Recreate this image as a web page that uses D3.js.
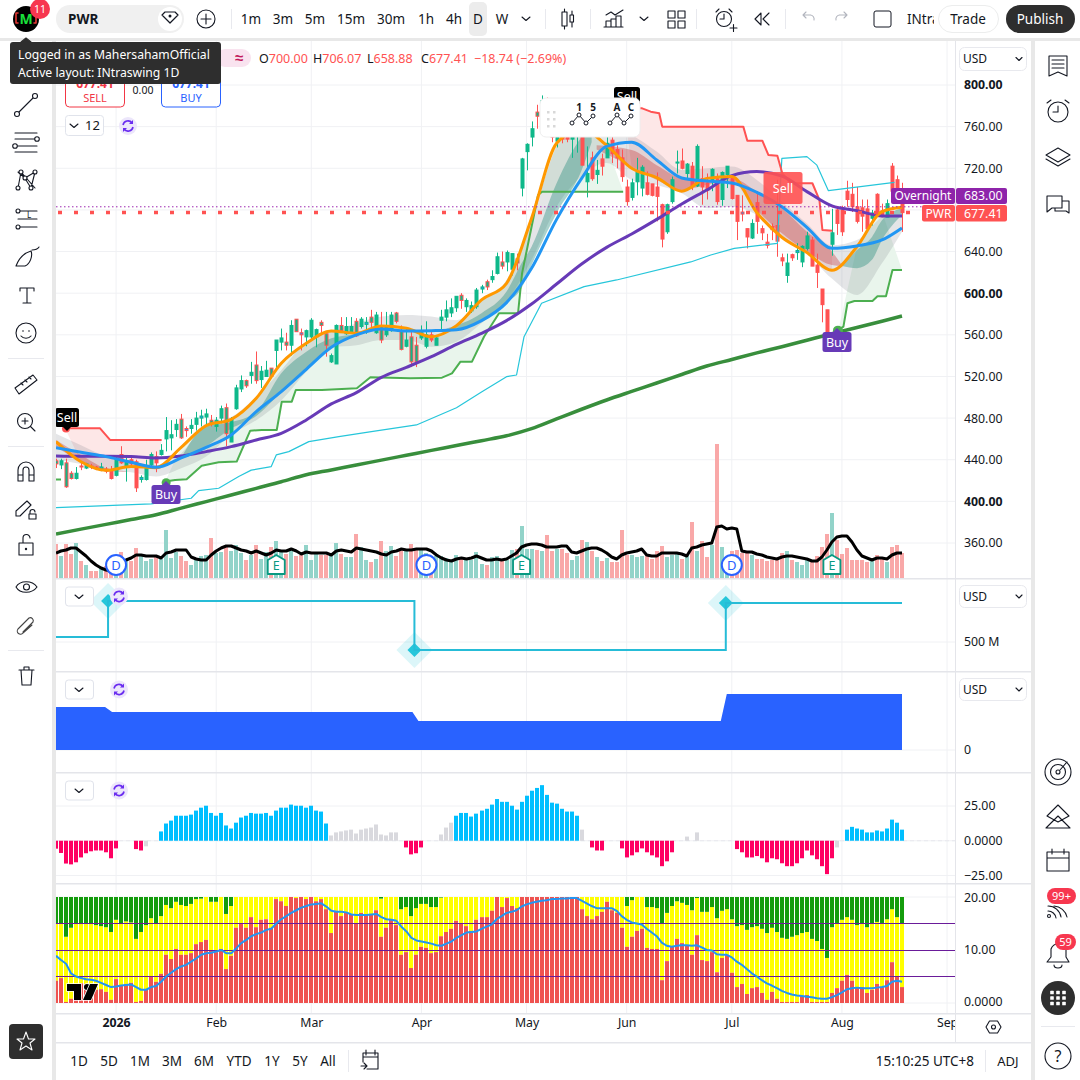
<!DOCTYPE html>
<html>
<head>
<meta charset="utf-8">
<script src="https://cdnjs.cloudflare.com/ajax/libs/d3/7.8.5/d3.min.js"></script>
<style>
  html, body { margin: 0; padding: 0; background: #fff; }
  svg { display: block; font-family: "Noto Sans", sans-serif; }
  .ax text { font-size: 12.3px; fill: #131722; font-family: "Noto Sans", sans-serif; }
  .ax .domain, .ax line { display: none; }
</style>
</head>
<body>
<div id="chart"></div>
<script>
//candles, one value per daily bar
const opens = [
  439,435,437,427,422,434,432,434,433,431,
  431,429,425,445,434,440,438,421,421,435,
  443,445,460,461,469,479,470,470,474,480,
  481,478,472,480,490,457,489,508,516,521,
  531,517,520,528,545,553,553,550,575,562,
  558,558,558,572,561,534,532,569,561,562,
  573,568,570,577,562,568,560,564,581,564,
  549,558,550,557,549,560,550,574,577,581,
  586,598,587,583,587,604,611,613,619,630,
  630,623,633,701,736,750,774,772,782,768,
  746,755,752,748,752,750,707,730,714,729,
  730,747,738,730,702,692,707,701,706,705,
  702,685,659,688,725,727,715,722,703,710,
  706,709,710,690,714,712,694,678,662,653,
  687,662,649,664,665,634,617,637,639,630,
  643,651,627,604,584,647,680,680,698,695,
  683,682,681,672,695,679,673,722,709,700];
const highs = [
  441,441,441,429,433,437,437,436,434,437,
  433,434,443,453,443,443,440,425,440,447,
  448,455,481,478,479,484,472,479,486,488,
  489,483,481,492,494,481,512,521,517,534,
  544,530,535,528,555,566,562,574,575,566,
  565,576,566,574,563,542,570,577,577,577,
  576,577,577,584,582,582,582,582,582,569,
  566,563,558,569,573,563,558,584,593,595,
  597,600,595,592,605,608,613,622,639,640,
  641,638,638,730,744,765,781,790,788,775,
  765,770,768,765,770,760,741,736,728,734,
  750,750,742,738,709,710,730,723,717,705,
  716,686,686,712,737,739,725,726,743,722,
  715,720,715,717,722,714,694,694,662,671,
  698,665,657,667,709,638,638,638,648,646,
  659,654,638,604,584,681,683,684,708,706,
  702,690,690,680,696,686,690,725,713,706.07];
const lows = [
  432,431,413,421,421,430,431,431,430,429,
  427,421,424,436,419,434,409,418,420,433,
  428,444,448,449,462,460,462,465,468,472,
  473,472,467,475,453,457,488,505,509,513,
  513,509,520,519,528,545,545,540,563,545,
  549,556,548,562,539,533,532,562,560,561,
  558,566,561,564,561,552,558,563,571,545,
  548,529,529,555,547,553,550,564,573,577,
  582,585,582,581,585,600,603,610,618,623,
  621,617,622,693,718,741,758,765,765,745,
  740,744,745,730,735,723,692,708,705,713,
  730,725,720,707,684,689,694,693,694,693,
  669,644,657,686,715,719,709,699,702,685,
  690,698,685,684,701,690,651,669,643,652,
  657,651,643,651,635,626,610,631,632,625,
  641,626,605,572,557,636,656,655,683,678,
  667,659,659,665,675,673,673,693,694,658.88];
const closes = [
  436,439,414,422,427,433,436,433,432,433,
  429,422,441,437,438,436,413,423,433,445,
  437,449,468,464,474,461,468,473,480,482,
  484,475,478,489,465,479,509,516,511,524,
  516,525,526,520,555,557,550,569,563,560,
  564,574,565,569,550,540,569,564,568,568,
  559,575,572,572,579,555,568,579,573,546,
  555,534,534,562,560,555,557,577,584,586,
  597,593,593,588,603,606,606,616,635,626,
  639,638,629,729,743,758,770,785,770,750,
  752,748,748,758,765,723,715,710,718,722,
  744,734,730,712,688,706,716,721,695,694,
  693,652,685,709,726,720,724,703,741,702,
  699,719,688,716,722,691,669,676,654,667,
  669,658,646,661,650,631,629,634,641,645,
  655,626,620,589,561,658,667,659,690,683,
  669,674,662,677,677,673.5,686,698,699,677.41];

//volume and the black relative line that sits on top of it (same unnamed scale)
const volumes = [
  34,22,34,24,35,17,13,7,7,10,
  12,12,17,26,18,17,30,22,17,19,
  21,19,48,20,26,22,17,13,20,22,
  23,40,25,26,32,27,33,25,18,23,
  33,19,26,31,37,26,24,27,22,23,
  33,18,24,23,23,24,35,24,21,21,
  44,31,18,16,19,37,27,32,22,29,
  27,34,29,29,25,15,22,22,20,17,
  23,20,18,18,26,14,13,21,22,17,
  18,28,29,52,29,29,28,27,43,27,
  29,29,25,18,22,38,36,27,21,17,
  20,16,16,48,23,23,21,22,23,19,
  27,32,21,23,24,19,23,56,27,37,
  21,33,134,31,21,27,28,25,25,23,
  19,19,17,18,19,25,27,18,16,13,
  18,16,22,31,44,65,38,24,30,18,
  18,18,16,17,23,20,16,31,33,25];
const relLine = [
  25,27,28,30,30,26,22,17,13,10,
  8,7,12,15,18,20,23,23,22,22,
  22,20,25,26,28,28,28,21,19,18,
  18,23,27,30,32,32,30,28,27,25,
  27,25,23,25,28,27,27,29,27,24,
  26,25,25,25,25,23,27,28,27,26,
  30,29,28,27,26,24,23,26,27,29,
  28,28,29,29,29,27,23,20,18,17,
  19,20,19,20,22,20,18,18,19,18,
  19,22,25,31,33,34,34,33,31,31,
  31,32,32,26,25,27,29,30,30,28,
  25,21,19,23,25,26,27,29,23,22,
  22,25,25,25,25,24,22,30,31,33,
  34,35,51,52,49,50,49,27,26,26,
  24,23,21,20,19,21,22,22,21,20,
  19,17,17,21,28,36,41,42,42,36,
  28,22,20,18,20,20,19,23,25,25];

//moving averages read every fifth bar
const lineBars = [0,5,10,15,20,25,30,35,40,45,50,55,60,65,70,75,80,85,90,95,100,105,110,115,120,125,130,135,140,145,150,155,160,165,169];
const emaFast = [457.4,438,429.8,433.4,432.4,451.9,472.8,478.8,499,532.6,551.8,563.7,561.5,568.5,566.3,558.2,568.8,593.5,609.5,672,744,758,742,720,711,698,710.3,712,677.4,653.7,639,622,644.7,678.3,682.5];
const emaMid = [451.6,447.1,443,437.5,432.7,441.7,451.9,463.8,486.2,505.4,526.9,548,559.9,565.6,563.7,564,564.9,573.6,590.9,623.9,670.9,710.3,741,745,728,710.7,707.8,705.9,696.9,683.1,663.3,643.1,645.4,651.1,662.7];
const emaSlow = [443.6,443.3,443.3,443,441.7,443.6,447.8,452.6,459,465.4,478.2,493.6,504.5,519.2,528.8,539,550.9,561.4,573.6,589.6,608.8,628,644,656.9,670.9,685.7,699.1,712.9,716.8,712.6,697.6,683.8,679.3,674.2,674.2];
const emaLong = [368.7,373.3,377.9,382.5,387.1,393.5,399.8,406.1,412.5,418.8,425.6,430.2,435,439.6,444.3,449,453.6,458.3,463,469.8,479.2,488.5,497.4,505.6,513.7,521.9,530,536.3,542.6,548.6,554.8,561,567,573.1,578.1];
const ribbonUpper = [465,454,443,438,435,446,475,481,500.6,526,553.5,563,571,577.5,579,577.5,574,591.9,612.7,670,740.8,763,761.6,752,736,718.3,720,721.6,708.8,688,667,646,651,673.5,681.5];
const ribbonLower = [440,436,430,428,424,431.8,443,464,478,497,524.6,548,550,555,555,548.6,553.4,571,591.9,632,683,712,725,708.7,704,696,681.5,683,675,654.3,638,614,598.3,628.7,659];

//ribbon core pieces, [bar, upper, lower]
const coreBearFirst = [[0,459,452.6],[5,444.6,438],[10,431.8,429],[14,429,428.5]];
const coreBullFirst = [[25,442,441],[30,472,453],[35,476,470],[40,486,482],[45,523,505],[50,543.8,526.9],[55,556.6,548],[60,560.8,560],[65,566,565]];
const coreBullSecond = [[78,566,564],[85,580.7,573.6],[90,601.5,590.9],[93,628.7,604.7],[95,644.7,627],[100,705.5,676.7],[105,750,718],[107,760,745]];
const coreBearSecond = [[108,742,738],[115,737.6,721.5],[120,723,708.7],[125,710,699],[130,707,704],[135,710.4,707],[140,697.6,680],[145,681.5,657.5],[150,659,640],[155,640,627],[157,627,626]];
const coreBullThird = [[157,627,626],[160,641.5,624],[163,654,632],[165,670,651],[169,681.5,675]];

//stepped trailing lines, [bar, price]
const trailCyan = [[0,394],[19,397.5],[27,403],[28.5,410.3],[32.5,412.6],[36.5,423.8],[39,430],[43,433.4],[44,444.6],[46.5,447.8],[50.5,457.4],[56.5,462.2],[63,467],[72,473.4],[80,490],[85,505],[90,519.8],[92,521.4],[93.5,558.2],[97,590.3],[105.5,606.3],[112,612.7],[126.8,630],[130.8,636.7],[135.5,643],[144.1,647.9],[145,729.6],[150,731.2],[152,723],[154.3,698.5],[167.5,706.5]];
const supportStart = [[0,421],[1,421]];
const supportFirst = [[21.8,419],[23.8,420.6],[26.1,421.2],[29.1,434.3],[32.5,437.5],[36.1,438.2],[38.8,467.9],[41.1,468.6],[44.1,468.6],[45.1,495.8],[47.1,495.8],[47.9,507],[53.1,507],[60.1,508.6],[62.8,519.2],[70.8,518.2],[77.1,518.8],[79.1,523],[80.8,534.2],[83.1,534.2],[85.5,558.2],[88.5,580.7],[92.3,580.7],[93.1,619],[96.3,694.3],[97.1,697.5],[113.3,697.5]];
const supportSecond = [[156.3,564.7],[157.3,567.9],[158.1,590.3],[159.5,592.5],[163.1,592.5],[164.1,597],[165.8,597],[167.1,622.3],[169,622.3]];
const resistFirst = [[1.8,470.2],[8.8,470.2],[10.8,459],[21.1,459]];
const resistSecond = [[113.5,777.6],[117.1,777.6],[118.8,774.4],[120.5,772.8],[121.1,760],[137.3,760],[138.1,746.5],[141.1,746.5],[142.3,732.8],[144.1,732],[145.1,715],[146.8,705.6],[151.1,705.6],[152.5,689.6],[153.1,660.7],[155.1,660]];

//second and third pane, [bar, value]
const stepValues = [[0,505],[10.4,541],[71.6,492],[133.8,539],[169,539]];
const stepMarkers = [[10.4,541],[71.6,492],[133.8,539]];
const blockValues = [[0,430],[9.8,430],[11.2,380],[71.2,380],[72.4,290],[132.8,290],[134,560],[169,560]];

//histogram pane
const histValues = [
  -5.7,-8.8,-16.4,-17,-15.5,-12,-9,-7.6,-7,-7,
  -8.3,-12.6,-5.5,0,0,0,-6,-7,-4,0,
  0,6.7,12.4,14.5,18,18,18,18.8,21.7,23.8,
  25.2,20,18,20,11,8.8,13,16.7,18,20,
  19.5,19.5,20,18,21.7,23.8,23.8,26,25.2,25.2,
  23.8,25.2,21.7,21,12.4,3.8,6,6.7,7.4,8,
  5.2,8,8.8,9.5,11.7,4.5,3.8,6,6,0,
  -4.8,-9.8,-9,-4.8,0,0,0,4.5,9.5,13,
  18,20,20,17.4,19.5,21.7,23,26,30,28,
  28,25.2,22.4,28,32.4,36,38,40,33,27.4,
  26.7,23,21,21,18,8,0,-4.8,-7,-7,
  0,0,0,-5.5,-12,-10.5,-8.3,-5.5,-8.3,-10.5,
  -12,-18.3,-14.8,-8.3,0,0,3,0,6,0,
  0,0,0,0,0,0,-6,-8.3,-12,-12,
  -11,-12.6,-15.5,-12.6,-13.3,-16.2,-18.3,-18.3,-16.2,-12.6,
  -7,-10.5,-13.3,-18.3,-24,-12.6,-4.8,0,8,10,
  8.8,8,6,6,7.4,6.7,8.8,15.2,13,8];
const histNeutralBars = [18,55,56,57,58,59,60,61,62,63,64,65,66,67,68,77,78,79,105,126,128,156];

//bottom pane: red stack top, green stack floor, blue average
const stackRed = [
  4.2,4.7,0.2,0.8,2.5,3.7,3.6,3.2,2.5,2.6,
  2.1,0.6,4.5,3.4,3.6,3.8,0.2,0.4,2.5,4.9,
  4,5.5,9.1,8.3,10.2,9.1,9.1,9.4,11.1,11.5,
  11.9,10,9.6,10.2,6.4,8.9,14.2,14.9,14.2,16.2,
  14.3,15.7,15.8,14.2,19.6,19.2,18.3,20,19.8,20,
  19.6,20,19.2,19.6,17.7,13.2,17.4,16.4,17,16.8,
  15.1,17,16.6,16.8,17.5,12.5,14.2,15.8,14.7,9.1,
  9.6,6.6,9.1,10.6,10.4,9.4,9.6,12.6,13.4,14,
  15.5,15.1,14.5,13.6,15.7,16.2,16.2,17.4,20,18.1,
  19.8,18.3,17.9,20,20,20,20,20,20,20,
  20,20,20,20,20,17.7,16.4,15.8,16.4,17.2,
  19.1,17.5,17,14.2,10.6,12.5,13.6,14,10.4,10.2,
  10.2,4.3,7.9,10.6,12.1,11.3,10.9,9.1,12.8,8.1,
  7.9,9.6,5.8,8.5,9.1,5.7,3,3.6,1.7,2.8,
  3,1.9,0.6,2.1,0.8,0.2,0.2,0.2,0.2,1.3,
  1.5,0.2,0.2,0.2,0.2,1.9,2.8,4.2,5.3,4.2,
  3,3,1.9,2.5,3.6,3,4.3,7.7,4.9,3];
const stackGreen = [
  15,15,12.5,14.2,14.9,14.9,14.9,14.9,14.7,14.5,
  14.3,13.4,15.7,15,15.4,15.2,12.1,13.4,14.7,16,
  15,16.4,18.5,17.9,19.1,18.5,18.3,18.7,19.6,19.7,
  20,19.1,19.1,20,16.8,18.3,20,20,20,20,
  20,20,20,20,20,20,20,20,20,20,
  20,20,20,20,20,20,20,20,20,20,
  20,20,20,20,20,19.7,20,20,20,17.7,
  18.1,16.4,17.9,18.7,18.7,18.1,18.1,19.9,20,20,
  20,20,20,20,20,20,20,20,20,20,
  20,20,20,20,20,20,20,20,20,20,
  20,20,20,20,20,20,20,20,20,20,
  20,20,20,20,18.3,19.4,20,20,18.1,18.1,
  17.9,15,17,18.3,19.2,18.9,18.5,17.5,19.8,17.2,
  17.2,18.1,16,17.4,17.7,15.8,14.5,14.7,13.8,14.3,
  14.5,14,13.2,14.2,13.4,12.3,12.1,12.5,12.8,13.2,
  13.4,12.1,11.7,10.2,8.5,14.3,15.1,15.7,16.2,15.7,
  14.7,14.9,14.3,14.9,15.3,15.1,15.8,17.7,16.2,15];
const stackAverage = [
  8.9,8.1,7.4,5.6,5,4.7,4.5,4.4,4.2,3.8,
  3.4,3,3.1,3.3,3.4,3.5,3,2.5,2.5,3,
  3.2,4,5,5.7,6.4,6.9,7.2,7.8,8.4,9.1,
  9.4,9.5,9.7,10,9.4,9.4,10.3,11.3,11.9,12.6,
  13,13.3,13.8,14,15,15.8,16.4,17,17.5,18,
  18.3,18.6,18.7,18.8,18.2,17.4,17.2,17.2,17.1,16.7,
  16.6,16.6,16.6,16.7,16.8,16.2,15.8,15.7,15.5,14.4,
  13.5,12.3,11.8,11.6,11.4,11.2,10.9,10.8,11.2,11.6,
  12.3,12.8,13.3,13.4,13.5,14,14.4,14.8,15.8,16.4,
  17,17.2,17.5,18.2,18.6,18.9,19.1,19.3,19.4,19.6,
  19.6,19.7,19.7,19.8,19.8,19.3,18.8,18.3,17.9,17.9,
  17.9,17.9,17.4,16.4,15.7,15.2,15,14.8,14,13.3,
  12.6,11.4,10.8,10.6,10.8,10.9,10.9,10.8,10.9,10.5,
  10,9.9,9.2,9.1,9.1,8.6,7.8,7.2,6.4,5.6,
  5,4.3,3.7,3.3,2.8,2.3,1.9,1.6,1.4,1.3,
  1.2,1.1,0.9,0.8,0.8,1.1,1.5,2,2.6,2.8,
  2.9,2.8,2.8,2.8,2.9,3,3.2,4,4.2,4];
const stackLevels = [15,10,5];

//ticks and labels
const priceTicks = [800,760,720,640,600,560,520,480,440,400,360];
const priceBold = [800,600,400];
const histTicks = [25,0,-25];
const stackTicks = [20,10,0];
const monthBars = [12,32,51,73,94,114,135,157,178];
const monthLabels = ["2026","Feb","Mar","Apr","May","Jun","Jul","Aug","Sep"];
const dividendBars = [12,74,135];
const earningsBars = [44,93,155];
const intervals = ["1m","3m","5m","15m","30m","1h","4h","D","W"];
const ranges = ["1D","5D","1M","3M","6M","YTD","1Y","5Y","All"];
const lastClose = 677.41;
const overnightPrice = 683;

const width = 1080, height = 1080;
const svg = d3.select("#chart").append("svg").attr("width", width).attr("height", height);
const defs = svg.append("defs");
const addClip = (id, x, y, w, h) => defs.append("clipPath").attr("id", id).append("rect").attr("x", x).attr("y", y).attr("width", w).attr("height", h);
addClip("main", 56, 41, 899, 537);
addClip("pane2", 56, 579, 899, 92);
addClip("pane3", 56, 672, 899, 100);
addClip("pane4", 56, 773, 899, 110);
addClip("pane5", 56, 884, 899, 129);
addClip("timeaxis", 56, 1013, 899, 29);

//shared scales
const x = d3.scaleLinear().domain([0, 169]).range([56, 902]);
const bx = i => Math.round(x(i));
const y = d3.scaleLinear().domain([360, 800]).range([543, 85]);
const yVol = d3.scaleLinear().domain([0, 134]).range([578, 444]);
const yStep = d3.scaleLinear().domain([500, 541]).range([642, 601]);
const yBlock = d3.scaleLinear().domain([0, 560]).range([750, 694]);
const yHist = d3.scaleLinear().domain([-25, 25]).range([875.5, 806]);
const yStack = d3.scaleLinear().domain([0, 20]).range([1003, 897]);

//gridlines
const grid = svg.append("g").attr("stroke", "#f0f1f4");
grid.selectAll(".v").data(monthBars).enter().append("line")
  .attr("x1", d => x(d)).attr("x2", d => x(d)).attr("y1", 41).attr("y2", 1013);
const hGrid = (vals, sc) => grid.append("g").selectAll("line").data(vals).enter().append("line")
  .attr("x1", 56).attr("x2", 955).attr("y1", d => sc(d)).attr("y2", d => sc(d));
hGrid(priceTicks.concat([680]), y);
hGrid([500], yStep);
hGrid([0], yBlock);
hGrid(histTicks, yHist);
hGrid([20, 0], yStack);

//main pane
const main = svg.append("g").attr("clip-path", "url(#main)");

//volume first, everything else goes over it
main.selectAll(".vol").data(volumes).enter().append("rect")
  .attr("x", (d, i) => bx(i) - 2).attr("width", 4)
  .attr("y", d => yVol(d)).attr("height", d => 578 - yVol(d))
  .attr("fill", (d, i) => closes[i] >= opens[i] ? "#92d3c9" : "#f9a8a8");

const zip = (vals) => lineBars.map((b, i) => [b, vals[i]]);
const linePrice = d3.line().x(d => x(d[0])).y(d => y(d[1]));
const lineKnots = d3.line().x(d => x(d[0])).y(d => y(d[1])).curve(d3.curveMonotoneX);

//zone between a trailing line and the fast average
function zone(trail, from, to, fill) {
  const back = zip(emaFast).filter(d => d[0] > from && d[0] < to).reverse();
  main.append("path").attr("d", linePrice(trail.concat(back)) + "Z").attr("fill", fill);
}
zone(supportFirst, 21.8, 113.3, "#e9f5ec");
zone(supportSecond, 156.3, 169, "#e9f5ec");
zone(resistFirst, 1.8, 21.1, "#fde7e7");
zone(resistSecond, 113.5, 155.1, "#fde7e7");

//ribbon
main.append("path")
  .attr("d", d3.area().x(d => x(d)).y0(d => y(ribbonLower[lineBars.indexOf(d)])).y1(d => y(ribbonUpper[lineBars.indexOf(d)])).curve(d3.curveMonotoneX)(lineBars))
  .attr("fill", "#787b86").attr("fill-opacity", 0.2);
const coreArea = d3.area().x(d => x(d[0])).y0(d => y(d[2])).y1(d => y(d[1])).curve(d3.curveMonotoneX);
[coreBullFirst, coreBullSecond, coreBullThird].forEach(p =>
  main.append("path").attr("d", coreArea(p)).attr("fill", "#1f8a78").attr("fill-opacity", 0.38));
[coreBearFirst, coreBearSecond].forEach(p =>
  main.append("path").attr("d", coreArea(p)).attr("fill", "#c62828").attr("fill-opacity", 0.33));

//candles
const upColor = "#0fb88a", downColor = "#ff5252";
const candles = main.append("g");
opens.forEach((o, i) => {
  const c = closes[i], up = c >= o, col = up ? upColor : downColor, px = bx(i);
  const knot = Math.min(Math.floor(i / 5), lineBars.length - 1);
  const bull = emaFast[knot] > emaMid[knot] && i < 100;
  let fill = col;
  if (!up && bull) fill = upColor;
  if (Math.abs(o - c) < 2.5) fill = "#2196f3";
  candles.append("line").attr("x1", px + 0.5).attr("x2", px + 0.5)
    .attr("y1", y(highs[i])).attr("y2", y(lows[i])).attr("stroke", col);
  candles.append("rect").attr("x", px - 1).attr("width", 3)
    .attr("y", y(Math.max(o, c))).attr("height", Math.max(1, Math.abs(y(o) - y(c))))
    .attr("fill", fill).attr("stroke", col).attr("stroke-width", 1);
});

//trailing lines
const drawLine = (g, d, col, w) => g.append("path").attr("d", d).attr("fill", "none").attr("stroke", col).attr("stroke-width", w).attr("stroke-linejoin", "round");
drawLine(main, linePrice(trailCyan), "#26c6da", 1.2);
[supportStart, supportFirst, supportSecond].forEach(p => drawLine(main, linePrice(p), "#4caf50", 2));
[resistFirst, resistSecond].forEach(p => drawLine(main, linePrice(p), "#ff5252", 2));

//moving averages
drawLine(main, lineKnots(zip(emaLong)), "#388e3c", 3.5);
drawLine(main, lineKnots(zip(emaSlow)), "#673ab7", 3);
drawLine(main, lineKnots(zip(emaFast)), "#ff9800", 3);
drawLine(main, lineKnots(zip(emaMid)), "#2196f3", 3);

//black line over volume
drawLine(main, d3.line().x((d, i) => x(i)).y(d => yVol(d))(relLine), "#000", 3);

//last price and overnight dotted lines
main.append("line").attr("x1", 56).attr("x2", 955).attr("y1", y(overnightPrice)).attr("y2", y(overnightPrice))
  .attr("stroke", "#9c27b0").attr("stroke-width", 1).attr("stroke-dasharray", "1.5 2.5");
main.append("line").attr("x1", 58).attr("x2", 955).attr("y1", y(lastClose)).attr("y2", y(lastClose))
  .attr("stroke", "#ff5252").attr("stroke-width", 3.5).attr("stroke-dasharray", "4 12");

//signal labels
function flag(xp, yTop, w, h, bg, label, tip, alpha) {
  const g = svg.append("g");
  g.append("rect").attr("x", xp - w / 2).attr("y", yTop).attr("width", w).attr("height", h).attr("rx", 2.5).attr("fill", bg).attr("fill-opacity", alpha || 1);
  if (tip) g.append("path").attr("d", `M${xp - 4} ${yTop + (tip > 0 ? h : 0)}L${xp} ${yTop + (tip > 0 ? h + 4 : -4)}L${xp + 4} ${yTop + (tip > 0 ? h : 0)}Z`).attr("fill", bg);
  g.append("text").attr("x", xp).attr("y", yTop + h / 2 + 4.5).attr("text-anchor", "middle").attr("fill", "#fff").attr("font-size", 12.5).text(label);
}
svg.append("circle").attr("cx", x(2)).attr("cy", y(470)).attr("r", 4).attr("fill", "#ff5252");
flag(67, 408, 24, 19, "#000", "Sell", 1);
flag(627, 87, 26, 19, "#000", "Sell", 1);
svg.append("circle").attr("cx", x(22)).attr("cy", y(418)).attr("r", 4.5).attr("fill", "#4caf50");
flag(166, 485, 29, 19, "#673ab7", "Buy", -1);
svg.append("circle").attr("cx", x(156.2)).attr("cy", y(564)).attr("r", 5).attr("fill", "#4caf50");
flag(837, 332, 29, 20, "#673ab7", "Buy", -1);
flag(783, 172, 39, 32, "#ff5252", "Sell", 0, 0.9);

//dividend and earnings badges
dividendBars.forEach(b => {
  const g = svg.append("g").attr("transform", `translate(${x(b)},565)`);
  g.append("circle").attr("r", 10).attr("fill", "#fff").attr("stroke", "#2962ff").attr("stroke-width", 2);
  g.append("text").attr("y", 4.5).attr("text-anchor", "middle").attr("fill", "#2962ff").attr("font-size", 13).text("D");
});
earningsBars.forEach(b => {
  const g = svg.append("g").attr("transform", `translate(${x(b)},565)`);
  g.append("path").attr("d", "M0 -10L8.5 -5V9H-8.5V-5Z").attr("fill", "#fff").attr("stroke", "#089981").attr("stroke-width", 1.8).attr("stroke-linejoin", "round");
  g.append("text").attr("y", 5).attr("text-anchor", "middle").attr("fill", "#089981").attr("font-size", 12.5).text("E");
});

//floating wave panel
const wave = svg.append("g");
wave.append("rect").attr("x", 540).attr("y", 98).attr("width", 100).attr("height", 39).attr("rx", 6).attr("fill", "#fff")
  .attr("stroke", "#eee").attr("stroke-width", 1);
[113, 120, 127].forEach(cy => [548, 554].forEach(cx => wave.append("rect").attr("x", cx - 1).attr("y", cy - 2).attr("width", 2.5).attr("height", 2.5).attr("fill", "#d8d8d8")));
[[572, "1", "5"], [610, "A", "C"]].forEach(([x0, a, b]) => {
  const pts = [[x0, 123], [x0 + 7, 115], [x0 + 14, 123], [x0 + 21, 116]];
  wave.append("path").attr("d", d3.line()(pts)).attr("fill", "none").attr("stroke", "#131722");
  pts.forEach(p => wave.append("circle").attr("cx", p[0]).attr("cy", p[1]).attr("r", 2).attr("fill", "#fff").attr("stroke", "#131722"));
  wave.append("text").attr("x", x0 + 7).attr("y", 111).attr("text-anchor", "middle").attr("font-size", 10).attr("font-weight", 700).attr("fill", "#131722").text(a);
  wave.append("text").attr("x", x0 + 21).attr("y", 111).attr("text-anchor", "middle").attr("font-size", 10).attr("font-weight", 700).attr("fill", "#131722").text(b);
});

//second pane
const pane2 = svg.append("g").attr("clip-path", "url(#pane2)");
stepMarkers.forEach(d => {
  const g = pane2.append("g").attr("transform", `translate(${x(d[0])},${yStep(d[1])})`);
  g.append("path").attr("d", "M0 -18L18 0L0 18L-18 0Z").attr("fill", "#26c6da").attr("fill-opacity", 0.16);
  g.append("path").attr("d", "M0 -7L7 0L0 7L-7 0Z").attr("fill", "#26c6da");
});
pane2.append("path").attr("d", d3.line().x(d => x(d[0])).y(d => yStep(d[1])).curve(d3.curveStepAfter)(stepValues))
  .attr("fill", "none").attr("stroke", "#26bcd7").attr("stroke-width", 2);

//third pane
const pane3 = svg.append("g").attr("clip-path", "url(#pane3)");
pane3.append("path").attr("d", d3.area().x(d => x(d[0])).y0(yBlock(0)).y1(d => yBlock(d[1]))(blockValues)).attr("fill", "#2962ff");

//histogram pane
const pane4 = svg.append("g").attr("clip-path", "url(#pane4)");
pane4.append("line").attr("x1", 56).attr("x2", 955).attr("y1", yHist(0)).attr("y2", yHist(0)).attr("stroke", "#e8e9ee").attr("stroke-dasharray", "4 3");
pane4.selectAll("rect").data(histValues).enter().append("rect")
  .attr("x", (d, i) => bx(i) - 2).attr("width", 4)
  .attr("y", d => Math.min(yHist(d), yHist(0))).attr("height", d => Math.abs(yHist(d) - yHist(0)))
  .attr("fill", (d, i) => histNeutralBars.includes(i) ? "#d9d9de" : (d > 0 ? "#00bfff" : "#ff0062"));

//bottom stacked pane
const pane5 = svg.append("g").attr("clip-path", "url(#pane5)");
stackRed.forEach((r, i) => {
  const g = stackGreen[i], px = bx(i) - 2;
  pane5.append("rect").attr("x", px).attr("width", 4).attr("y", yStack(g)).attr("height", yStack(r) - yStack(g)).attr("fill", "#ffff00");
  pane5.append("rect").attr("x", px).attr("width", 4).attr("y", yStack(r)).attr("height", yStack(0) - yStack(r)).attr("fill", "#ef5350");
  if (g < 20) pane5.append("rect").attr("x", px).attr("width", 4).attr("y", yStack(20)).attr("height", yStack(g) - yStack(20)).attr("fill", "#149c0c");
});
pane5.selectAll(".lvl").data(stackLevels).enter().append("line")
  .attr("x1", 56).attr("x2", 955).attr("y1", d => Math.floor(yStack(d)) + 0.5).attr("y2", d => Math.floor(yStack(d)) + 0.5).attr("stroke", "#6a1b9a");
drawLine(pane5, d3.line().x((d, i) => x(i)).y(d => yStack(d))(stackAverage), "#2196f3", 2);

//watermark
const logo = svg.append("g").attr("fill", "#000").attr("stroke", "#fff").attr("stroke-width", 1.5).attr("paint-order", "stroke");
logo.append("path").attr("d", "M67 984H81V1000H74V991H67Z");
logo.append("circle").attr("cx", 87).attr("cy", 987).attr("r", 3);
logo.append("path").attr("d", "M90 984H98L91 1000H83Z");

//pane and axis lines
const chrome = svg.append("g");
[578, 671, 772, 883, 1013, 1042].forEach(v => chrome.append("rect").attr("x", 56).attr("y", v).attr("width", 975).attr("height", 1.5).attr("fill", "#e4e5ea"));
chrome.append("rect").attr("x", 955).attr("y", 41).attr("width", 1).attr("height", 1001).attr("fill", "#e4e5ea");
chrome.append("rect").attr("x", 0).attr("y", 38).attr("width", 1080).attr("height", 3).attr("fill", "#e8e8e8");
chrome.append("rect").attr("x", 52).attr("y", 38).attr("width", 4).attr("height", 1042).attr("fill", "#e8e8e8");
chrome.append("rect").attr("x", 1031).attr("y", 38).attr("width", 4).attr("height", 1042).attr("fill", "#e8e8e8");

//price axis
const axMain = svg.append("g").attr("class", "ax").attr("transform", "translate(955,0)")
  .call(d3.axisRight(y).tickValues(priceTicks).tickSize(0).tickPadding(9).tickFormat(d3.format(".2f")));
axMain.selectAll("text").attr("font-weight", d => priceBold.includes(d) ? 700 : 400);
svg.append("g").attr("class", "ax").attr("transform", "translate(955,0)")
  .call(d3.axisRight(yStep).tickValues([500]).tickSize(0).tickPadding(9).tickFormat(d => d + " M"));
svg.append("g").attr("class", "ax").attr("transform", "translate(955,0)")
  .call(d3.axisRight(yBlock).tickValues([0]).tickSize(0).tickPadding(9));
const fmtPane = d => d === 0 ? "0.0000" : d3.format(".2f")(d).replace("-", "−");
svg.append("g").attr("class", "ax").attr("transform", "translate(955,0)")
  .call(d3.axisRight(yHist).tickValues(histTicks).tickSize(0).tickPadding(9).tickFormat(fmtPane));
svg.append("g").attr("class", "ax").attr("transform", "translate(955,0)")
  .call(d3.axisRight(d3.scaleLinear().domain([0, 20]).range([1002, 898])).tickValues(stackTicks).tickSize(0).tickPadding(9).tickFormat(fmtPane));

//time axis
const axTime = svg.append("g").attr("clip-path", "url(#timeaxis)").append("g").attr("class", "ax").attr("transform", "translate(0,1018)")
  .call(d3.axisBottom(x).tickValues(monthBars).tickSize(0).tickPadding(0).tickFormat((d, i) => monthLabels[i]));
axTime.selectAll("text").attr("font-weight", (d, i) => i === 0 ? 700 : 400).attr("dy", "0.71em");

//helpers for the app chrome
const tx = (xp, yp, s, o = {}) => svg.append("text").attr("x", xp).attr("y", yp).attr("fill", o.fill || "#131722")
  .attr("font-size", o.size || 13).attr("font-weight", o.weight || 400).attr("text-anchor", o.anchor || "start").text(s);
const ic = (d, o = {}) => svg.append("path").attr("d", d).attr("fill", o.fill || "none").attr("stroke", o.stroke || "#131722")
  .attr("stroke-width", o.w || 1.1).attr("stroke-linejoin", "round").attr("stroke-linecap", "round");
const ring = (cx, cy, r, o = {}) => svg.append("circle").attr("cx", cx).attr("cy", cy).attr("r", r).attr("fill", o.fill || "none").attr("stroke", o.stroke || "none").attr("stroke-width", o.w || 1.1);
const box = (xp, yp, w, h, o = {}) => svg.append("rect").attr("x", xp).attr("y", yp).attr("width", w).attr("height", h).attr("rx", o.r || 0).attr("fill", o.fill || "none").attr("stroke", o.stroke || "none").attr("stroke-width", o.w || 1);

//price labels
box(891, 188, 64, 16, { fill: "#8e24aa", r: 2 });
box(956, 188, 51, 16, { fill: "#8e24aa", r: 2 });
tx(923, 200, "Overnight", { fill: "#fff", size: 12, anchor: "middle" });
tx(964, 200, "683.00", { fill: "#fff", size: 12.3 });
box(922, 205, 33, 16.5, { fill: "#ff5252", r: 2 });
box(956, 205, 51, 16.5, { fill: "#ff5252", r: 2 });
tx(938.5, 217.5, "PWR", { fill: "#fff", size: 12, anchor: "middle" });
tx(964, 217.5, "677.41", { fill: "#fff", size: 12.3 });

//currency selectors
[[47, 23], [585, 22], [678, 22]].forEach(([t, h]) => {
  box(959.5, t + 0.5, 67, h, { fill: "#fff", stroke: "#e8e9ee", r: 5 });
  tx(963, t + h / 2 + 4.5, "USD", { size: 12 });
  ic(`M1016 ${t + h / 2 - 1}l3 3l3 -3`);
});

//pane buttons
const syncIcon = (cx, cy) => {
  ring(cx, cy, 9, { fill: "#ece6fb" });
  svg.append("path").attr("d", `M${cx - 5} ${cy - 1}A5 5 0 0 1 ${cx + 4} ${cy - 3}M${cx + 5} ${cy + 1}A5 5 0 0 1 ${cx - 4} ${cy + 3}`).attr("fill", "none").attr("stroke", "#6a2cf0").attr("stroke-width", 1.6);
  svg.append("path").attr("d", `M${cx + 5} ${cy - 6}v4h-4zM${cx - 5} ${cy + 6}v-4h4z`).attr("fill", "#6a2cf0");
};
[[587, 596.5], [680, 689.5], [781, 790.5]].forEach(([t, c]) => {
  box(65.5, t, 28, 19, { fill: "#fff", stroke: "#e0e3eb", r: 3 });
  ic(`M75 ${c - 1.5}l4 3.5l4 -3.5`);
  syncIcon(119, c);
});
box(65.5, 115.5, 38, 20, { fill: "#fff", stroke: "#e0e3eb", r: 3 });
ic("M70 124l4 3.5l4 -3.5");
tx(85, 130, "12", { size: 13 });
syncIcon(128, 126);

//order buttons
box(65.5, 76, 59, 31, { fill: "#fff", stroke: "#f23645", r: 4 });
box(161.5, 76, 59, 31, { fill: "#fff", stroke: "#2962ff", r: 4 });
tx(95, 88, "677.41", { fill: "#f23645", size: 12, weight: 700, anchor: "middle" });
tx(95, 102, "SELL", { fill: "#f23645", size: 11, anchor: "middle" });
tx(143, 94, "0.00", { size: 10.5, anchor: "middle" });
tx(191, 88, "677.41", { fill: "#2962ff", size: 12, weight: 700, anchor: "middle" });
tx(191, 102, "BUY", { fill: "#2962ff", size: 11, anchor: "middle" });

//legend row
box(216, 49, 35, 18, { fill: "#f9e3ef", r: 9 });
tx(239, 63, "≈", { fill: "#c2185b", size: 15, anchor: "middle", weight: 700 });
[[259, "O", "700.00"], [313, "H", "706.07"], [367, "L", "658.88"], [421, "C", "677.41"]].forEach(([xp, k, v]) => {
  const t = tx(xp, 63, k, { size: 12.5 });
  t.append("tspan").attr("fill", "#ff5252").text(v);
});
tx(474, 63, "−18.74 (−2.69%)", { fill: "#ff5252", size: 12.5 });

//top bar
box(0, 0, 1080, 38, { fill: "#fff" }).lower();
ring(26, 19, 13, { fill: "#000" });
tx(26, 24, "M", { fill: "#19e03a", size: 14, weight: 700, anchor: "middle" });
ic("M18 13h-2v10h2M34 13h2v10h-2", { stroke: "#e53935", w: 1.6 });
ring(40, 9, 10, { fill: "#f7374f" });
tx(40, 13, "11", { fill: "#fff", size: 10.5, anchor: "middle" });
box(56, 5, 128, 28, { fill: "#f0f0f0", r: 14 });
tx(68, 24, "PWR", { size: 13.5, weight: 700 });
ring(170, 19, 12, { fill: "#fff" });
ic("M162 15l3 -3h10l3 3l-8 8z", { w: 1.2 });
ring(170, 16, 1.5, { fill: "#131722" });
ring(206, 19, 9, { stroke: "#131722" });
ic("M201 19h10M206 14v10");
[251, 283, 315, 351, 391, 426, 454, 478, 502].forEach((xp, i) => {
  if (intervals[i] === "D") box(469, 2, 18, 34, { fill: "#ececec", r: 5 });
  tx(xp, 24, intervals[i], { anchor: "middle", size: 13.5 });
});
ic("M522 17l4 3.5l4 -3.5");
[231, 545, 590, 696, 785].forEach(v => box(v, 9, 1, 20, { fill: "#e8e9ee" }));
ic("M562 12h5v14h-5zM564.5 9v3M564.5 26v3M570 15h3.5v7h-3.5zM572 11v4M572 22v5");
ic("M606 15l5 -3l4 3l8 -5M606 27v-6h5v6M611 27v-8h5v8M616 27v-11h5v11M604 27h19");
ic("M640 17l4 3.5l4 -3.5");
ic("M668 11h7v7h-7zM678 11h7v7h-7zM668 21h7v7h-7zM678 21h7v7h-7z");
ring(724, 19, 7.5, { stroke: "#131722" });
ic("M724 14v5h-4M716 12l3 -3M732 12l-3 -3M730 28h7M733.5 24.5v7");
ic("M761 13l-6 6l6 6zM769 13l-6 6l6 6");
ic("M811 15h-8M803 15l3 -3M803 15l3 3M803 15h7a4 4 0 0 1 4 5", { stroke: "#b2b5be" });
ic("M839 15h8M847 15l-3 -3M847 15l-3 3M847 15h-7a4 4 0 0 0 -4 5", { stroke: "#b2b5be" });
box(874, 11, 17, 16, { stroke: "#131722", r: 2 });
tx(907, 24, "INtra", { size: 13.5 });
box(934, 2, 5, 34, { fill: "#fff" });
box(938.5, 5.5, 60, 27, { fill: "#fff", stroke: "#eceded", r: 13.5 });
tx(968, 24, "Trade", { size: 13.5, anchor: "middle" });
box(1006, 5, 69, 28, { fill: "#2e2e2e", r: 14 });
tx(1040, 24, "Publish", { fill: "#fff", size: 13.5, anchor: "middle" });

//tooltip over the toolbar
box(10, 42, 211, 42, { fill: "#2e2e2e", r: 3 });
ic("M21 42l5 -4l5 4z", { fill: "#2e2e2e", stroke: "#2e2e2e" });
tx(18, 59, "Logged in as MahersahamOfficial", { fill: "#fff", size: 12.2 });
tx(18, 77, "Active layout: INtraswing 1D", { fill: "#fff", size: 12.2 });

//left toolbar
box(0, 84, 52, 996, { fill: "#fff" }).lower();
ic("M18 113L34 97"); ring(17, 114, 2.5, { fill: "#fff", stroke: "#131722" }); ring(35, 96, 2.5, { fill: "#fff", stroke: "#131722" });
ic("M15 133H37M15 139H35M17 146H37M15 152H37"); ring(37, 139, 2.3, { fill: "#fff", stroke: "#131722" }); ring(15, 146, 2.3, { fill: "#fff", stroke: "#131722" });
ic("M18 188L21 172L31 188L35 172L25 178L18 172M21 172L35 188");
[[18, 188], [21, 172], [31, 188], [35, 172], [25, 178]].forEach(p => ring(p[0], p[1], 2, { fill: "#fff", stroke: "#131722" }));
ic("M18 211H37M18 219H37M18 227H37");
ring(18, 211, 2, { fill: "#fff", stroke: "#131722" }); ring(18, 227, 2, { fill: "#fff", stroke: "#131722" });
tx(27, 218, "L", { size: 8 });
ic("M16 266C19 258 24 253 31 251C33 256 30 264 25 266ZM32 250C34 250 37 250 39 247");
ic("M20 288H34M27 288V303M23 303H31M20 288V291M34 288V291");
ring(26, 333, 10, { stroke: "#131722" }); ring(23, 331, 0.8, { fill: "#131722" }); ring(29, 331, 0.8, { fill: "#131722" }); ic("M21 336a6 5 0 0 0 10 0");
[358, 446, 650].forEach(v => box(8, v, 36, 1, { fill: "#e8e9ee" }));
ic("M15 388L33 375L37 380L19 394ZM21 383l2 2M25 380l2 2M29 377l2 2");
ring(25, 421, 7.5, { stroke: "#131722" }); ic("M25 418v6M22 421h6M30.5 426.5L35 431");
ic("M18 481V470a8 8 0 0 1 16 0V481H29V470a3 3 0 0 0 -6 0V481ZM18 475H23M29 475H34");
ic("M16 511L27 501L31 505L20 516H16ZM29 519h7v-5h-7zM30 514v-2a2.5 2.5 0 0 1 5 0");
ic("M19 543h14v12H19zM23 543v-5a3.5 3.5 0 0 1 7 0"); ring(26, 549, 1.2, { fill: "#131722" });
ic("M16 587C20 580 32 580 37 587C32 594 20 594 16 587Z"); ring(26.5, 587, 3, { stroke: "#131722" });
ic("M23 632L33 622a3 3 0 0 0 -4 -4L18 629a3 3 0 0 0 5 4L32 625", { stroke: "#444" });
ic("M19 670H34M24 670V667H29V670M21 670L22 685H31L32 670");

//star button
box(9, 1024, 34, 35, { fill: "#2e2e2e", r: 4 });
ic("M26 1032L28.5 1039H35L30 1043L32 1050L26 1046L20 1050L22 1043L17 1039H23.5Z", { stroke: "#fff" });

//right sidebar
box(1035, 41, 45, 1039, { fill: "#fff" }).lower();
ic("M1049 56H1067V76L1058 72L1049 76ZM1052 60H1064M1052 64H1064M1052 68H1064");
ring(1058, 112, 10, { stroke: "#131722" }); ic("M1058 106V112H1053M1047 103l4 -3M1069 103l-4 -3");
ic("M1058 148L1070 155L1058 162L1046 155ZM1046 159L1058 166L1070 159");
ic("M1047 196H1062V208H1052L1047 212ZM1062 201H1069V213L1066 211H1055V208");
ring(1058, 772, 13, { stroke: "#131722" }); ring(1058, 772, 7.5, { stroke: "#131722" }); ring(1058, 772, 2, { stroke: "#131722" }); ic("M1060 770L1067 762");
ic("M1058 805L1069 816L1058 822L1047 816ZM1046 828H1070L1058 816Z");
ic("M1047 852H1069V871H1047ZM1047 858H1069M1052 849V854M1064 849V854");
ic("M1048 906a13 13 0 0 1 13 11M1048 911a8 8 0 0 1 8 7M1054 906a14 14 0 0 1 13 11"); ring(1049, 916, 1.5, { stroke: "#131722" });
box(1047, 888, 29, 16, { fill: "#f7374f", r: 8 }); tx(1061.5, 900, "99+", { fill: "#fff", size: 11, anchor: "middle" });
ic("M1047 962H1069L1066 957V949a8 8 0 0 0 -15 0V957ZM1054 965a4 3 0 0 0 8 0");
box(1055, 934, 21, 16, { fill: "#f7374f", r: 8 }); tx(1065.5, 946, "59", { fill: "#fff", size: 11, anchor: "middle" });
ring(1058, 998, 17, { fill: "#2e2e2e" });
[-5, 0, 5].forEach(dy => [-6, 0, 6].forEach(dx => box(1058 + dx - 1.8, 998 + dy * 1.1 - 1.8, 3.6, 3.6, { fill: "#fff", r: 0.6 })));
box(1041, 1026, 34, 1, { fill: "#e8e9ee" });
ring(1058, 1056, 13, { stroke: "#131722" }); tx(1058, 1062, "?", { size: 16, anchor: "middle" });

//time axis settings and bottom bar
ic("M986 1027L989.5 1021H997.5L1001 1027L997.5 1033H989.5Z"); ring(993.5, 1027, 2, { stroke: "#131722" });
[79, 109, 140, 172, 204, 239, 272, 300, 328].forEach((xp, i) => tx(xp, 1066, ranges[i], { size: 13.5, anchor: "middle" }));
box(348, 1050, 1, 22, { fill: "#e8e9ee" });
ic("M363 1053H378V1069H367M363 1053V1062M366 1050V1055M375 1050V1055M363 1057H378M361 1066H367M364 1063L367 1066L364 1069");
tx(974, 1066, "15:10:25 UTC+8", { size: 13.5, anchor: "end" });
box(985, 1050, 1, 22, { fill: "#e8e9ee" });
tx(1008, 1066, "ADJ", { size: 13, anchor: "middle" });
</script>
</body>
</html>
